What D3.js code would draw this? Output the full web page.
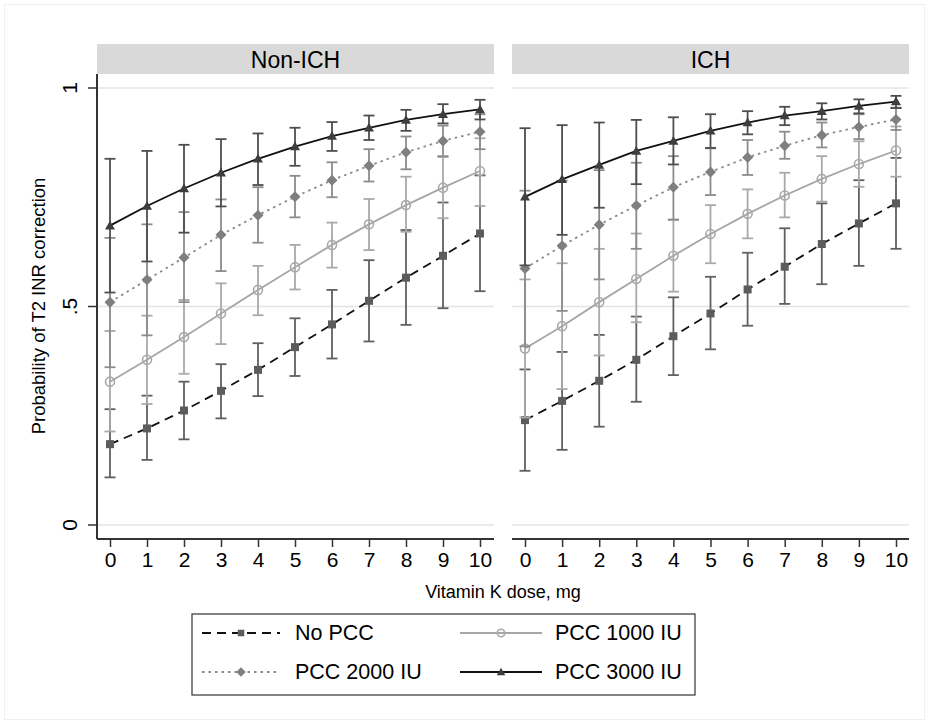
<!DOCTYPE html>
<html>
<head>
<meta charset="utf-8">
<script src="https://cdn.jsdelivr.net/npm/d3@7"></script>
<style>
  body { margin: 0; background: #fff; }
  svg text { font-family: Arial, "Liberation Sans", sans-serif; fill: #000; }
</style>
</head>
<body>
<svg width="929" height="724"></svg>
<script>
const doses = [0, 1, 2, 3, 4, 5, 6, 7, 8, 9, 10];
const panels = ["Non-ICH", "ICH"];
const seriesNames = ["No PCC", "PCC 1000 IU", "PCC 2000 IU", "PCC 3000 IU"];
const yTicks = [0, 0.5, 1];
const yTickLabels = ["0", ".5", "1"];

// Non-ICH
const nonIchNoPcc    = [0.185, 0.221, 0.262, 0.307, 0.355, 0.407, 0.459, 0.513, 0.566, 0.616, 0.667];
const nonIchNoPccLo  = [0.109, 0.149, 0.196, 0.244, 0.295, 0.341, 0.381, 0.420, 0.458, 0.496, 0.535];
const nonIchNoPccHi  = [0.265, 0.296, 0.328, 0.368, 0.416, 0.473, 0.538, 0.606, 0.675, 0.738, 0.800];
const nonIch1000     = [0.328, 0.378, 0.430, 0.484, 0.538, 0.590, 0.641, 0.688, 0.732, 0.772, 0.810];
const nonIch1000Lo   = [0.214, 0.277, 0.346, 0.414, 0.480, 0.539, 0.589, 0.629, 0.671, 0.702, 0.730];
const nonIch1000Hi   = [0.444, 0.479, 0.515, 0.553, 0.593, 0.641, 0.692, 0.746, 0.797, 0.842, 0.885];
const nonIch2000     = [0.510, 0.561, 0.612, 0.664, 0.709, 0.751, 0.789, 0.822, 0.853, 0.879, 0.900];
const nonIch2000Lo   = [0.361, 0.434, 0.510, 0.581, 0.646, 0.704, 0.750, 0.786, 0.814, 0.844, 0.860];
const nonIch2000Hi   = [0.657, 0.688, 0.716, 0.745, 0.773, 0.799, 0.830, 0.860, 0.889, 0.914, 0.940];
const nonIch3000     = [0.685, 0.730, 0.770, 0.806, 0.838, 0.866, 0.890, 0.909, 0.927, 0.940, 0.951];
const nonIch3000Lo   = [0.532, 0.603, 0.669, 0.729, 0.778, 0.822, 0.856, 0.881, 0.902, 0.919, 0.928];
const nonIch3000Hi   = [0.838, 0.856, 0.870, 0.883, 0.896, 0.909, 0.922, 0.937, 0.950, 0.963, 0.973];

// ICH
const ichNoPcc    = [0.240, 0.284, 0.330, 0.378, 0.432, 0.484, 0.539, 0.591, 0.643, 0.690, 0.736];
const ichNoPccLo  = [0.124, 0.172, 0.225, 0.282, 0.343, 0.402, 0.456, 0.506, 0.551, 0.593, 0.632];
const ichNoPccHi  = [0.356, 0.396, 0.435, 0.477, 0.521, 0.568, 0.623, 0.679, 0.736, 0.789, 0.840];
const ich1000     = [0.404, 0.455, 0.510, 0.563, 0.616, 0.666, 0.712, 0.754, 0.792, 0.826, 0.857];
const ich1000Lo   = [0.246, 0.311, 0.388, 0.464, 0.534, 0.599, 0.656, 0.704, 0.740, 0.774, 0.797];
const ich1000Hi   = [0.562, 0.599, 0.632, 0.667, 0.698, 0.732, 0.768, 0.806, 0.844, 0.878, 0.912];
const ich2000     = [0.587, 0.639, 0.687, 0.731, 0.773, 0.808, 0.841, 0.868, 0.892, 0.911, 0.928];
const ich2000Lo   = [0.409, 0.490, 0.562, 0.632, 0.699, 0.755, 0.801, 0.838, 0.864, 0.883, 0.904];
const ich2000Hi   = [0.765, 0.788, 0.812, 0.829, 0.844, 0.862, 0.881, 0.900, 0.921, 0.940, 0.955];
const ich3000     = [0.751, 0.791, 0.824, 0.856, 0.879, 0.902, 0.921, 0.937, 0.947, 0.959, 0.969];
const ich3000Lo   = [0.594, 0.664, 0.726, 0.780, 0.825, 0.863, 0.894, 0.915, 0.928, 0.942, 0.954];
const ich3000Hi   = [0.908, 0.915, 0.921, 0.927, 0.933, 0.940, 0.947, 0.957, 0.965, 0.974, 0.982];

const panelData = [
    [[nonIchNoPcc, nonIchNoPccLo, nonIchNoPccHi], [nonIch1000, nonIch1000Lo, nonIch1000Hi],
     [nonIch2000, nonIch2000Lo, nonIch2000Hi], [nonIch3000, nonIch3000Lo, nonIch3000Hi]],
    [[ichNoPcc, ichNoPccLo, ichNoPccHi], [ich1000, ich1000Lo, ich1000Hi],
     [ich2000, ich2000Lo, ich2000Hi], [ich3000, ich3000Lo, ich3000Hi]]
];

// styles per series
const styles = [
    {line: "#111", dash: "9,6", ci: "#606060", marker: "square", fill: "#5c5c5c"},
    {line: "#a6a6a6", dash: null, ci: "#a9a9a9", marker: "circle", fill: "none"},
    {line: "#8a8a8a", dash: "2.5,4", ci: "#8c8c8c", marker: "diamond", fill: "#7f7f7f"},
    {line: "#111", dash: null, ci: "#4e4e4e", marker: "triangle", fill: "#3e3e3e"}
];

const svg = d3.select("svg");
const width = 929, height = 724;

// faint outer frame
svg.append("rect").attr("x", 4.5).attr("y", 4.5).attr("width", width - 9).attr("height", height - 9)
    .attr("fill", "none").attr("stroke", "#f0f0f0");

const y = d3.scaleLinear().domain([0, 1]).range([525, 88]);
const panelBoxes = [{left: 97, right: 494, x0: 110, x10: 480}, {left: 512, right: 909, x0: 525, x10: 896}];
const axisY = 539;

function drawMarker(g, type, cx, cy, fill, stroke, s) {
    if (type === "square") {
        g.append("rect").attr("x", cx - s / 2).attr("y", cy - s / 2).attr("width", s).attr("height", s)
            .attr("fill", fill);
    } else if (type === "circle") {
        g.append("circle").attr("cx", cx).attr("cy", cy).attr("r", s / 2 + 0.5)
            .attr("fill", "none").attr("stroke", stroke).attr("stroke-width", 1.6);
    } else if (type === "diamond") {
        const r = s / 2 + 1.5;
        g.append("path").attr("d", `M${cx},${cy - r}L${cx + r},${cy}L${cx},${cy + r}L${cx - r},${cy}Z`)
            .attr("fill", fill);
    } else {
        const r = s / 2 + 1;
        g.append("path").attr("d", `M${cx},${cy - r}L${cx + r},${cy + r * 0.75}L${cx - r},${cy + r * 0.75}Z`)
            .attr("fill", fill);
    }
}

panels.forEach((name, pi) => {
    const box = panelBoxes[pi];
    const x = d3.scaleLinear().domain([0, 10]).range([box.x0, box.x10]);
    const g = svg.append("g");

    // strip header
    g.append("rect").attr("x", box.left).attr("y", 44).attr("width", box.right - box.left).attr("height", 30)
        .attr("fill", "#d9d9d9");
    g.append("text").attr("x", (box.left + box.right) / 2).attr("y", 60)
        .attr("text-anchor", "middle").attr("dominant-baseline", "central")
        .style("font-size", "23px").text(name);

    // grid
    g.selectAll(".grid").data(yTicks).enter().append("line")
        .attr("x1", box.left).attr("x2", box.right)
        .attr("y1", d => y(d)).attr("y2", d => y(d))
        .attr("stroke", "#e4e4e4").attr("stroke-width", 1.5);

    // x axis
    const xAxis = d3.axisBottom(x).tickValues(doses).tickSize(8).tickPadding(5).tickFormat(d3.format("d"));
    const xg = g.append("g").attr("transform", `translate(0,${axisY})`).call(xAxis);
    xg.select(".domain").remove();
    xg.selectAll(".tick line").attr("stroke", "#333").attr("stroke-width", 1.5);
    xg.selectAll(".tick text").style("font-size", "21px").style("font-family", "Arial, 'Liberation Sans', sans-serif")
        .attr("fill", "#000");
    g.append("line").attr("x1", box.left).attr("x2", box.right).attr("y1", axisY).attr("y2", axisY)
        .attr("stroke", "#333").attr("stroke-width", 2);

    // y axis only on first panel
    if (pi === 0) {
        g.append("line").attr("x1", box.left).attr("x2", box.left).attr("y1", 74).attr("y2", axisY)
            .attr("stroke", "#333").attr("stroke-width", 2);
        g.selectAll(".ytick").data(yTicks).enter().append("line")
            .attr("x1", box.left - 9).attr("x2", box.left)
            .attr("y1", d => y(d)).attr("y2", d => y(d))
            .attr("stroke", "#333").attr("stroke-width", 1.5);
        g.selectAll(".ylab").data(yTicks).enter().append("text")
            .attr("transform", d => `translate(${box.left - 20},${y(d)}) rotate(-90)`)
            .attr("text-anchor", "middle")
            .style("font-size", "21px")
            .text((d, i) => yTickLabels[i]);
    }

    // series
    panelData[pi].forEach((ser, si) => {
        const st = styles[si];
        const [est, lo, hi] = ser;
        const sg = g.append("g");
        // confidence intervals (capped)
        doses.forEach((d, i) => {
            const cx = x(d);
            sg.append("line").attr("x1", cx).attr("x2", cx).attr("y1", y(lo[i])).attr("y2", y(hi[i]))
                .attr("stroke", st.ci).attr("stroke-width", 1.8);
            [lo[i], hi[i]].forEach(v => {
                sg.append("line").attr("x1", cx - 5.5).attr("x2", cx + 5.5).attr("y1", y(v)).attr("y2", y(v))
                    .attr("stroke", st.ci).attr("stroke-width", 1.8);
            });
        });
        const line = d3.line().x((d, i) => x(doses[i])).y(d => y(d));
        sg.append("path").datum(est).attr("d", line)
            .attr("fill", "none").attr("stroke", st.line).attr("stroke-width", 1.8)
            .attr("stroke-dasharray", st.dash);
        est.forEach((v, i) => drawMarker(sg, st.marker, x(doses[i]), y(v), st.fill, st.ci, 8));
    });
});

// axis titles
svg.append("text").attr("x", 503).attr("y", 592).attr("text-anchor", "middle")
    .attr("dominant-baseline", "central").style("font-size", "18px").text("Vitamin K dose, mg");
svg.append("text").attr("transform", "translate(38,306) rotate(-90)").attr("text-anchor", "middle")
    .attr("dominant-baseline", "central").style("font-size", "18.5px").text("Probability of T2 INR correction");

// legend
const lg = svg.append("g");
lg.append("rect").attr("x", 192).attr("y", 614).attr("width", 503).attr("height", 81)
    .attr("fill", "#fff").attr("stroke", "#333").attr("stroke-width", 1.2);
const legendPos = [
    {x1: 202, x2: 280, tx: 295, cy: 633},
    {x1: 460, x2: 542, tx: 555, cy: 633},
    {x1: 202, x2: 280, tx: 295, cy: 672},
    {x1: 460, x2: 542, tx: 555, cy: 672}
];
seriesNames.forEach((name, si) => {
    const p = legendPos[si], st = styles[si];
    lg.append("line").attr("x1", p.x1).attr("x2", p.x2).attr("y1", p.cy).attr("y2", p.cy)
        .attr("stroke", st.line).attr("stroke-width", 1.8).attr("stroke-dasharray", st.dash);
    drawMarker(lg, st.marker, (p.x1 + p.x2) / 2, p.cy, st.fill, st.ci, 6.5);
    lg.append("text").attr("x", p.tx).attr("y", p.cy).attr("dominant-baseline", "central")
        .style("font-size", "21.5px").text(name);
});
</script>
</body>
</html>
